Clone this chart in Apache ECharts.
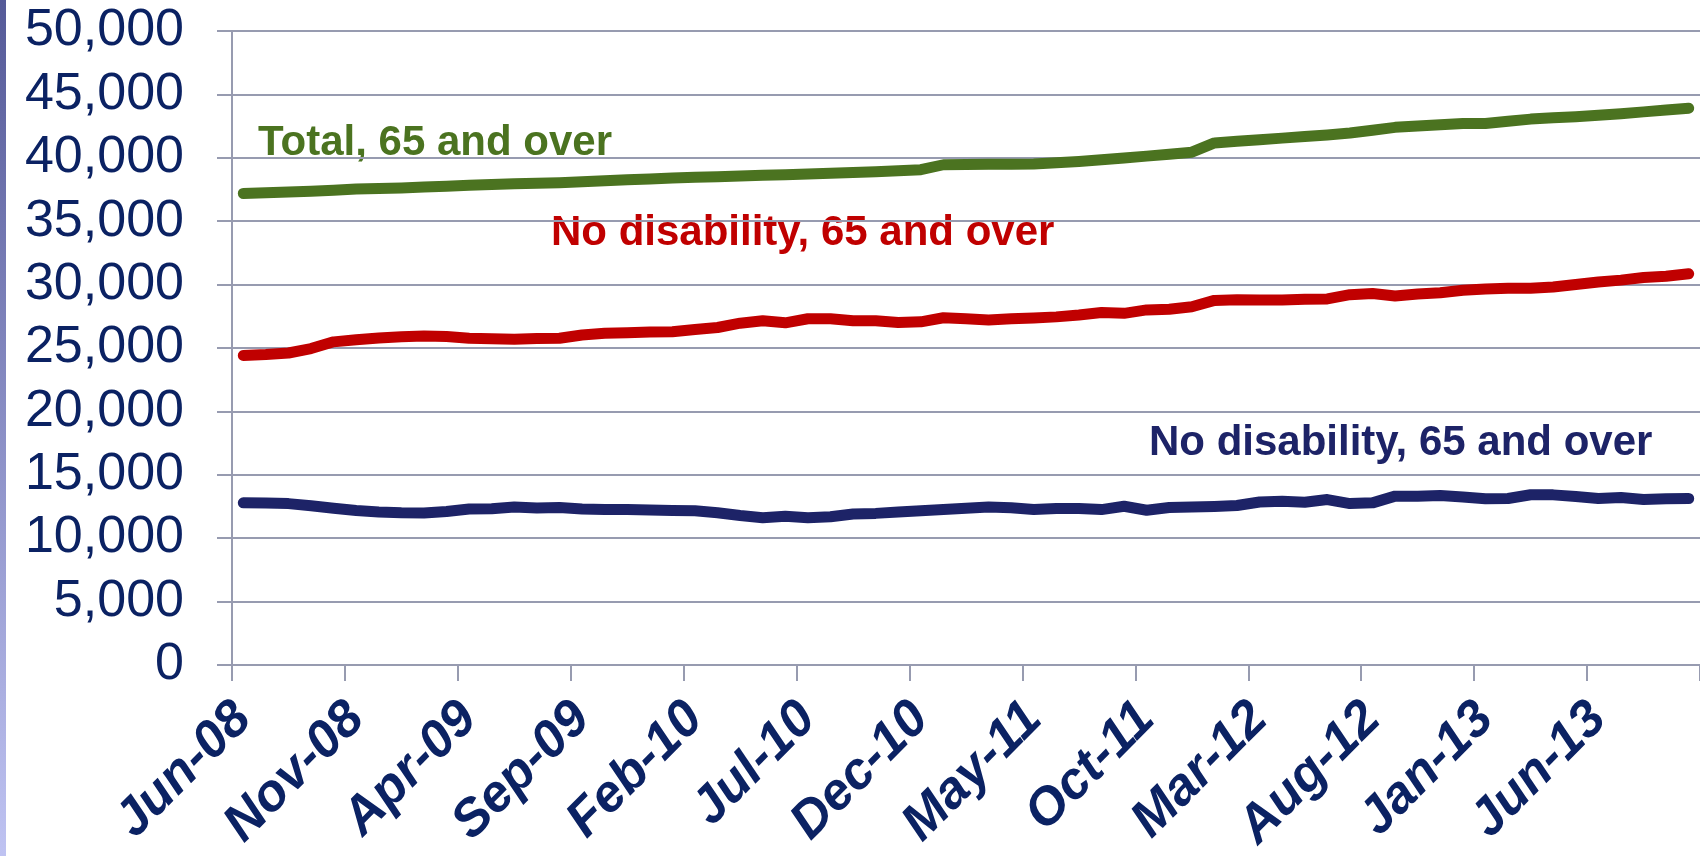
<!DOCTYPE html>
<html>
<head>
<meta charset="utf-8">
<title>65 and over</title>
<script src="https://cdn.jsdelivr.net/npm/echarts@6/dist/echarts.min.js"></script>
<style>
    html, body { margin: 0; padding: 0; background: #fff; }
    #chart { width: 1700px; height: 856px; }
</style>
</head>
<body>
<div id="chart"></div>
<script>
    // months, Jun-08 .. Oct-13
    const months = [
        'Jun-08','Jul-08','Aug-08','Sep-08','Oct-08','Nov-08','Dec-08','Jan-09','Feb-09','Mar-09',
        'Apr-09','May-09','Jun-09','Jul-09','Aug-09','Sep-09','Oct-09','Nov-09','Dec-09','Jan-10',
        'Feb-10','Mar-10','Apr-10','May-10','Jun-10','Jul-10','Aug-10','Sep-10','Oct-10','Nov-10',
        'Dec-10','Jan-11','Feb-11','Mar-11','Apr-11','May-11','Jun-11','Jul-11','Aug-11','Sep-11',
        'Oct-11','Nov-11','Dec-11','Jan-12','Feb-12','Mar-12','Apr-12','May-12','Jun-12','Jul-12',
        'Aug-12','Sep-12','Oct-12','Nov-12','Dec-12','Jan-13','Feb-13','Mar-13','Apr-13','May-13',
        'Jun-13','Jul-13','Aug-13','Sep-13','Oct-13'
    ];

    const total65 = [
        37190,37240,37300,37360,37440,37530,37570,37620,37700,37760,
        37830,37900,37950,37990,38030,38100,38180,38260,38330,38400,
        38460,38510,38560,38620,38670,38720,38780,38840,38900,38970,
        39060,39450,39460,39480,39490,39500,39600,39710,39850,39990,
        40130,40280,40440,41170,41300,41420,41550,41680,41800,41950,
        42170,42400,42500,42610,42710,42710,42880,43050,43150,43240,
        43350,43480,43620,43760,43910
    ];

    const noDisability65 = [
        24400,24480,24600,24950,25480,25650,25780,25880,25940,25900,
        25760,25730,25680,25740,25760,26020,26150,26200,26250,26280,
        26450,26610,26950,27140,26980,27300,27300,27150,27150,27000,
        27060,27380,27300,27200,27300,27370,27450,27600,27790,27730,
        28000,28050,28250,28750,28800,28780,28780,28850,28870,29200,
        29300,29100,29250,29350,29550,29650,29700,29700,29800,30000,
        30200,30350,30550,30650,30850
    ];

    const withDisability65 = [
        12780,12770,12720,12550,12350,12180,12060,12000,11980,12100,
        12300,12320,12460,12380,12410,12300,12250,12250,12220,12180,
        12150,12000,11780,11600,11720,11600,11680,11900,11950,12050,
        12150,12250,12350,12460,12400,12250,12330,12330,12250,12510,
        12200,12410,12450,12500,12570,12850,12910,12830,13040,12720,
        12780,13310,13300,13360,13250,13100,13120,13420,13410,13280,
        13120,13200,13040,13100,13120
    ];

    const seriesNames = ['Total, 65 and over', 'No disability, 65 and over', 'No disability, 65 and over'];
    const seriesColors = ['#4b7320', '#c00000', '#1d2367'];

    const font = '"Liberation Sans", Arial, sans-serif';
    const axisColor = '#0b2263';
    const gridColor = '#979bb0';

    const chart = echarts.init(document.getElementById('chart'));

    function lineSeries(name, data, color) {
        return {
            name: name,
            type: 'line',
            data: data,
            symbol: 'none',
            smooth: false,
            lineStyle: { color: color, width: 11, cap: 'round', join: 'round' },
            emphasis: { disabled: true }
        };
    }

    chart.setOption({
        animation: false,
        backgroundColor: '#ffffff',
        grid: { left: 232, right: -6, top: 31, bottom: 189 },
        xAxis: {
            type: 'category',
            data: months,
            boundaryGap: true,
            axisLine: { lineStyle: { color: gridColor, width: 2 } },
            axisTick: { show: true, interval: 4, length: 16, lineStyle: { color: gridColor, width: 2 } },
            axisLabel: {
                interval: 4,
                rotate: 45,
                margin: 46,
                color: axisColor,
                fontFamily: font,
                fontSize: 52,
                fontWeight: 'bold',
                fontStyle: 'italic'
            },
            splitLine: { show: false }
        },
        yAxis: {
            type: 'value',
            min: 0,
            max: 50000,
            interval: 5000,
            axisLine: { show: true, lineStyle: { color: gridColor, width: 2 } },
            axisTick: { show: true, length: 15, lineStyle: { color: gridColor, width: 2 } },
            axisLabel: {
                margin: 48,
                color: axisColor,
                fontFamily: font,
                fontSize: 52,
                formatter: v => v.toLocaleString('en-US')
            },
            splitLine: { lineStyle: { color: gridColor, width: 2 } }
        },
        graphic: [
            {
                type: 'rect',
                left: 0, top: 0,
                shape: { width: 6, height: 856 },
                style: {
                    fill: new echarts.graphic.LinearGradient(0, 0, 0, 1, [
                        { offset: 0, color: '#555a98' },
                        { offset: 1, color: '#bfc3f2' }
                    ])
                },
                silent: true
            },
            {
                type: 'text', left: 258, top: 122,
                style: { text: seriesNames[0], fill: seriesColors[0], font: 'bold 42px ' + font }
            },
            {
                type: 'text', left: 551, top: 212,
                style: { text: seriesNames[1], fill: seriesColors[1], font: 'bold 42px ' + font }
            },
            {
                type: 'text', left: 1149, top: 422,
                style: { text: seriesNames[2], fill: seriesColors[2], font: 'bold 42px ' + font }
            }
        ],
        series: [
            lineSeries(seriesNames[0], total65, seriesColors[0]),
            lineSeries(seriesNames[1], noDisability65, seriesColors[1]),
            lineSeries(seriesNames[2], withDisability65, seriesColors[2])
        ]
    });
</script>
</body>
</html>
